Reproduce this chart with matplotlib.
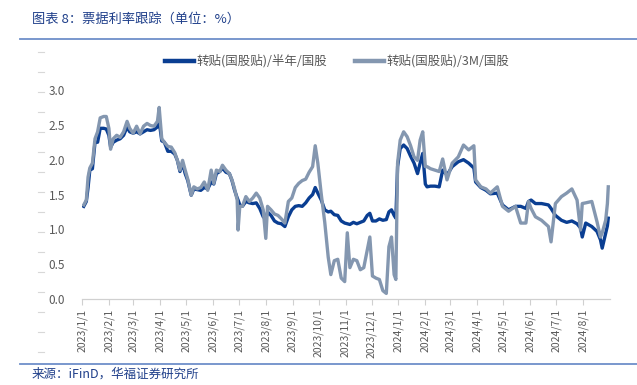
import matplotlib
matplotlib.use('Agg')
import matplotlib.pyplot as plt
from matplotlib.lines import Line2D
import pandas as pd

plt.rcParams['font.family'] = ['Noto Sans CJK SC', 'DejaVu Sans']

# values
dates = [
    '2023-01-03', '2023-01-06', '2023-01-08', '2023-01-10', '2023-01-13', '2023-01-16', '2023-01-19',
    '2023-01-22', '2023-01-26', '2023-01-29', '2023-02-01', '2023-02-03', '2023-02-06', '2023-02-10',
    '2023-02-14', '2023-02-18', '2023-02-22', '2023-02-25', '2023-03-01', '2023-03-05', '2023-03-09',
    '2023-03-13', '2023-03-17', '2023-03-21', '2023-03-25', '2023-03-29', '2023-03-31', '2023-04-03',
    '2023-04-06', '2023-04-10', '2023-04-14', '2023-04-18', '2023-04-21', '2023-04-24', '2023-04-27',
    '2023-04-30', '2023-05-03', '2023-05-07', '2023-05-10', '2023-05-14', '2023-05-18', '2023-05-22',
    '2023-05-26', '2023-05-30', '2023-06-02', '2023-06-05', '2023-06-09', '2023-06-12', '2023-06-16',
    '2023-06-20', '2023-06-23', '2023-06-26', '2023-06-29', '2023-06-30', '2023-07-02', '2023-07-05',
    '2023-07-09', '2023-07-13', '2023-07-17', '2023-07-21', '2023-07-25', '2023-07-29', '2023-08-01',
    '2023-08-03', '2023-08-07', '2023-08-11', '2023-08-15', '2023-08-19', '2023-08-23', '2023-08-27',
    '2023-08-31', '2023-09-04', '2023-09-08', '2023-09-12', '2023-09-16', '2023-09-20', '2023-09-24',
    '2023-09-27', '2023-09-30', '2023-10-04', '2023-10-08', '2023-10-12', '2023-10-15', '2023-10-19',
    '2023-10-23', '2023-10-27', '2023-10-31', '2023-11-03', '2023-11-06', '2023-11-10', '2023-11-14',
    '2023-11-18', '2023-11-22', '2023-11-26', '2023-11-29', '2023-12-02', '2023-12-06', '2023-12-10',
    '2023-12-14', '2023-12-18', '2023-12-21', '2023-12-24', '2023-12-27', '2023-12-29', '2023-12-31',
    '2024-01-03', '2024-01-07', '2024-01-11', '2024-01-15', '2024-01-19', '2024-01-23', '2024-01-26',
    '2024-01-29', '2024-02-01', '2024-02-03', '2024-02-07', '2024-02-12', '2024-02-17', '2024-02-21',
    '2024-02-26', '2024-03-03', '2024-03-10', '2024-03-16', '2024-03-22', '2024-03-28', '2024-03-30',
    '2024-04-05', '2024-04-11', '2024-04-16', '2024-04-24', '2024-04-30', '2024-05-07', '2024-05-15',
    '2024-05-21', '2024-05-27', '2024-05-30', '2024-06-02', '2024-06-07', '2024-06-14', '2024-06-22',
    '2024-06-25', '2024-06-30', '2024-07-07', '2024-07-13', '2024-07-19', '2024-07-25', '2024-07-29',
    '2024-07-31', '2024-08-04', '2024-08-11', '2024-08-17', '2024-08-21', '2024-08-23', '2024-08-27',
    '2024-08-29', '2024-08-30',
]

half_year = [
    1.33, 1.40, 1.60, 1.85, 1.87, 2.25, 2.25,
    2.45, 2.45, 2.44, 2.35, 2.18, 2.25, 2.28,
    2.30, 2.35, 2.47, 2.40, 2.38, 2.40, 2.37,
    2.40, 2.43, 2.42, 2.43, 2.47, 2.55, 2.27,
    2.25, 2.12, 2.12, 2.08, 1.99, 1.83, 1.95,
    1.80, 1.70, 1.49, 1.58, 1.57, 1.56, 1.60,
    1.58, 1.68, 1.65, 1.80, 1.83, 1.88, 1.82,
    1.80, 1.70, 1.56, 1.45, 1.42, 1.35, 1.33,
    1.40, 1.38, 1.37, 1.38, 1.30, 1.18, 1.15,
    1.25, 1.20, 1.12, 1.09, 1.08, 1.04, 1.18,
    1.28, 1.33, 1.34, 1.33, 1.38, 1.45, 1.50,
    1.60, 1.52, 1.42, 1.28, 1.25, 1.26, 1.21,
    1.20, 1.12, 1.09, 1.08, 1.07, 1.10, 1.08,
    1.10, 1.12, 1.20, 1.23, 1.12, 1.12, 1.15,
    1.13, 1.14, 1.25, 1.28, 1.20, 1.16, 1.90,
    2.16, 2.21, 2.16, 2.05, 1.95, 1.80, 1.95,
    2.09, 1.65, 1.61, 1.62, 1.62, 1.61, 1.85,
    1.78, 1.90, 1.97, 2.00, 1.95, 1.88, 1.68,
    1.60, 1.56, 1.51, 1.52, 1.35, 1.28, 1.33,
    1.33, 1.30, 1.40, 1.42, 1.37, 1.37, 1.35,
    1.30, 1.20, 1.13, 1.10, 1.12, 1.08, 1.02,
    0.89, 1.09, 1.04, 0.97, 0.85, 0.73, 0.94,
    1.05, 1.16,
]

three_month = [
    1.35, 1.42, 1.75, 1.88, 1.95, 2.30, 2.40,
    2.60, 2.62, 2.62, 2.45, 2.15, 2.30, 2.35,
    2.32, 2.40, 2.55, 2.45, 2.38, 2.48, 2.37,
    2.48, 2.52, 2.49, 2.48, 2.55, 2.75, 2.30,
    2.25, 2.19, 2.18, 2.10, 1.99, 1.85, 1.99,
    1.85, 1.72, 1.49, 1.61, 1.58, 1.60, 1.68,
    1.56, 1.85, 1.66, 1.85, 1.83, 1.92, 1.85,
    1.80, 1.71, 1.58, 1.42, 0.99, 1.33, 1.33,
    1.47, 1.40, 1.45, 1.52, 1.45, 1.28, 0.87,
    1.33, 1.28, 1.22, 1.20, 1.15, 1.09, 1.40,
    1.45, 1.60, 1.66, 1.70, 1.72, 1.82, 1.90,
    2.20, 1.95, 1.50, 1.10, 0.60, 0.35, 0.55,
    0.57, 0.30, 0.25, 0.95, 0.45, 0.57, 0.55,
    0.42, 0.45, 0.70, 0.89, 0.33, 0.30, 0.28,
    0.12, 0.08, 0.75, 0.89, 0.35, 0.28, 1.95,
    2.28, 2.40, 2.33, 2.20, 2.04, 1.99, 2.28,
    2.40, 1.90, 1.90, 1.87, 1.85, 1.83, 2.01,
    1.71, 1.95, 2.04, 2.21, 2.14, 2.20, 1.71,
    1.61, 1.58, 1.52, 1.61, 1.33, 1.26, 1.33,
    1.09, 1.09, 1.40, 1.30, 1.18, 1.13, 1.04,
    0.82, 1.37, 1.47, 1.52, 1.58, 1.42, 0.99,
    1.37, 1.38, 1.40, 1.11, 0.89, 0.95, 1.13,
    1.37, 1.61,
]

series_names = ['转贴(国股贴)/半年/国股', '转贴(国股贴)/3M/国股']
tick_start = '2023-01-01'
tick_end = '2024-08-01'
y_ticks = [0.0, 0.5, 1.0, 1.5, 2.0, 2.5, 3.0]

title_text = '图表 8：票据利率跟踪（单位：%）'
source_text = '来源：iFinD，华福证券研究所'

blue = '#0A3E92'
grey = '#8497B0'
text_grey = '#595959'
head_blue = '#1F3F8A'

W, H = 637, 385
fig = plt.figure(figsize=(W / 100, H / 100), dpi=100)

x = pd.to_datetime(dates)
ax = fig.add_axes([82 / W, 1 - 299 / H, (610 - 82) / W, (299 - 90) / H])
ax.plot(x, half_year, color=blue, linewidth=2.4, solid_joinstyle='round', zorder=2)
ax.plot(x, three_month, color=grey, linewidth=2.4, solid_joinstyle='round', zorder=3)

month_ticks = pd.date_range(tick_start, tick_end, freq='MS')
ax.set_xticks(month_ticks)
ax.set_xticklabels([f'{d.year}/{d.month}/{d.day}' for d in month_ticks],
                   rotation=90, fontsize=7.5, color=text_grey)
ax.set_xlim(pd.Timestamp('2023-01-01'), pd.Timestamp('2024-09-01'))
ax.set_ylim(0, 3.0)
ax.set_yticks(y_ticks)
ax.set_yticklabels([f'{v:.1f}' for v in y_ticks], fontsize=8.5, color=text_grey)
ax.tick_params(axis='y', length=0, pad=12)
ax.tick_params(axis='x', length=4, color='#D0D0D0', pad=3)
for s in ['top', 'right', 'left']:
    ax.spines[s].set_visible(False)
ax.spines['bottom'].set_color('#D0D0D0')
ax.spines['bottom'].set_linewidth(0.9)

# legend drawn in figure pixel space
def fx(px):
    return px / W

def fy(py):
    return 1 - py / H

fig.add_artist(Line2D([fx(165), fx(194)], [fy(61), fy(61)], color=blue, linewidth=3.2))
fig.text(fx(196), fy(61), series_names[0], fontsize=9, color=text_grey, va='center')
fig.add_artist(Line2D([fx(355), fx(384)], [fy(61), fy(61)], color=grey, linewidth=3.2))
fig.text(fx(386), fy(61), series_names[1], fontsize=9, color=text_grey, va='center')

# header / footer
fig.text(fx(32), fy(19), title_text, fontsize=9.5, color=head_blue, va='center', style='italic')
fig.add_artist(Line2D([fx(20), fx(637)], [fy(39), fy(39)], color='#6E8FC9', linewidth=1.3))
fig.add_artist(Line2D([fx(20), fx(637)], [fy(364), fy(364)], color='#6E8FC9', linewidth=1.3))
fig.text(fx(32), fy(374), source_text, fontsize=9, color=head_blue, va='center', style='italic')

# faint dashes along the left margin
for k in range(17):
    yy = fy(52 + 20 * k)
    fig.add_artist(Line2D([fx(38), fx(44)], [yy, yy], color='#D8D8D8', linewidth=0.8))

fig.savefig('out.png', dpi=100)
